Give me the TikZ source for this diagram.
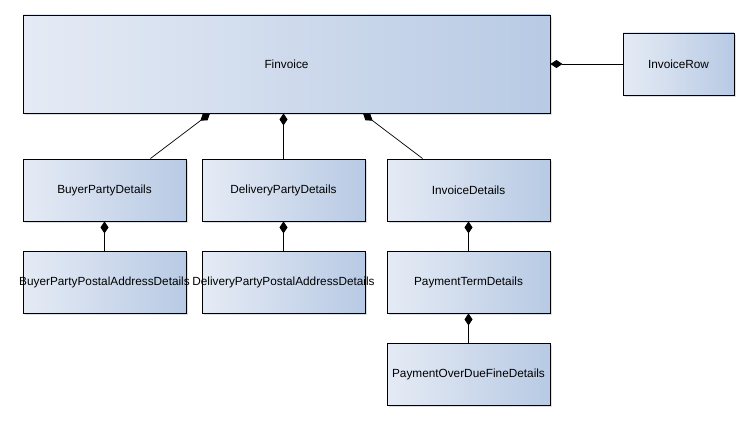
\documentclass[tikz,border=0pt]{standalone}
\usepackage{fontspec}
\setmainfont{Liberation Sans}
\usepackage{tikz}
\usetikzlibrary{shapes,positioning,calc}
\usetikzlibrary{arrows.meta,shadows}
\definecolor{chiaro}{HTML}{E5EBF5}
\definecolor{scuro}{HTML}{B8CAE4}
\tikzstyle{classe} = [rectangle, minimum width=163pt, minimum height=62pt, inner sep=0pt, text centered, draw=black, line width=0.9pt, left color=chiaro, right color=scuro, drop shadow={shadow xshift=2pt, shadow yshift=-2pt, opacity=0.25}, font=\fontsize{11.8}{14}\selectfont]
\tikzstyle{comp} = [line width=0.7pt, {Diamond[length=12pt,width=8pt]}-]

\begin{document}
\begin{tikzpicture}[x=1pt,y=-1pt]
				\useasboundingbox (0,0) rectangle (749,420);
				\node (fin) at (286.5,64) [classe, minimum width=527pt, minimum height=98pt] {Finvoice};
				\node (row) at (678.5,64) [classe, minimum width=111pt] {InvoiceRow};
				\node (buyer) at (104.5,190) [classe] {BuyerPartyDetails};
				\node (deliv) at (283.5,190) [classe] {DeliveryPartyDetails};
				\node (det) at (468.5,190) [classe] {InvoiceDetails};
				\node (buyerpost) at (104.5,282) [classe] {\makebox[0pt]{BuyerPartyPostalAddressDetails}};
				\node (delivpost) at (283.5,282) [classe] {\makebox[0pt]{DeliveryPartyPostalAddressDetails}};
				\node (term) at (468.5,282) [classe] {PaymentTermDetails};
				\node (overdue) at (468.5,374) [classe] {PaymentOverDueFineDetails};
				\draw[comp] ($(fin.south west)!0.355!(fin.south east)$) -- ($(buyer.north west)!0.78!(buyer.north east)$);
				\draw[comp] (deliv.north |- fin.south) -- (deliv.north);
				\draw[comp] ($(fin.south west)!0.645!(fin.south east)$) -- ($(det.north west)!0.22!(det.north east)$);
				\draw[comp] (fin.east |- row.west) -- (row.west);
				\draw[comp] (buyer.south) -- (buyerpost.north);
				\draw[comp] (deliv.south) -- (delivpost.north);
				\draw[comp] (det.south) -- (term.north);
				\draw[comp] (term.south) -- (overdue.north);
\end{tikzpicture}
\end{document}
